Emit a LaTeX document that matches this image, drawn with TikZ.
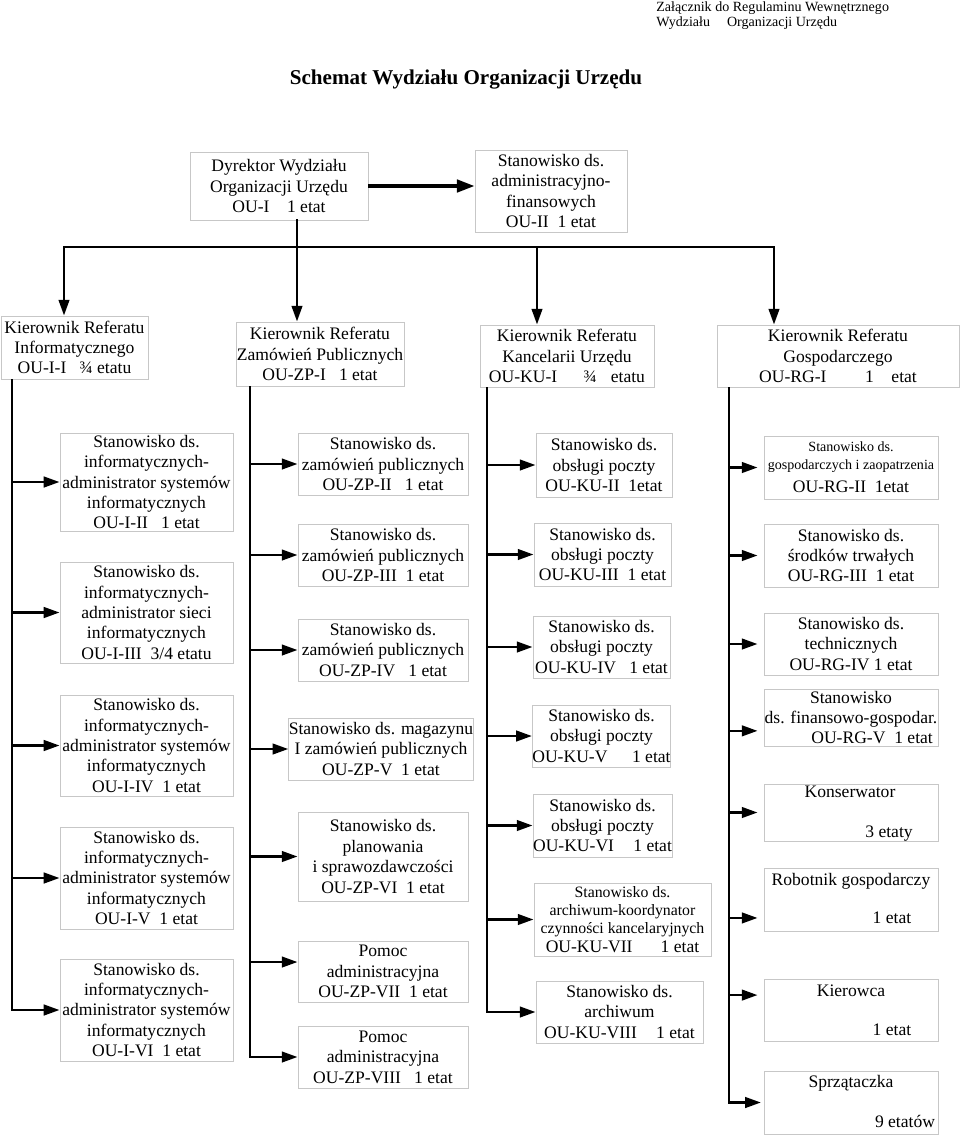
\documentclass[tikz,border=0pt]{standalone}
\usepackage{fontspec}
\setmainfont{Liberation Serif}
\usetikzlibrary{arrows.meta}

\begin{document}
\begin{tikzpicture}[x=0.02cm, y=-0.02cm,
        box/.style 2 args={draw=black!22, line width=0.5pt, align=center, inner sep=0pt,
            minimum width=#1*0.02cm, minimum height=#2*0.02cm,
            font=\fontsize{10}{11.6}\selectfont},
        txt/.style={inner sep=0pt, text height=7pt, text depth=2pt,
            font=\fontsize{10}{11.6}\selectfont},
        conn/.style={line width=1.5pt, line cap=rect},
        arr/.style={line width=1.5pt, -{Triangle[length=9pt,width=6pt]}}
    ]
    \useasboundingbox (0,0) rectangle (960,1137);

    % Headings
    \node[anchor=north west, align=left, inner sep=0pt, font=\fontsize{8}{9}\selectfont] (annex) at (656,1)
        {Załącznik do Regulaminu Wewnętrznego\\Wydziału\hspace{1.2em}Organizacji Urzędu};
    \node[font=\bfseries\fontsize{12}{14}\selectfont] (title) at (466,80) {Schemat Wydziału Organizacji Urzędu};

    % Top
    \node[box={178}{68}] (dyr) at (279,186) {Dyrektor Wydziału\\Organizacji Urzędu\\OU-I\quad 1 etat};
    \node[box={152}{82}] (adm) at (551,191) {Stanowisko ds.\\administracyjno-\\finansowych\\OU-II~~1 etat};

    % Referaty
    \node[box={147}{63}] (inf) at (74.5,347.5) {Kierownik Referatu\\Informatycznego\\OU-I-I~~~¾ etatu};
    \node[box={168}{64}] (zp) at (320,354) {Kierownik Referatu\\Zamówień Publicznych\\OU-ZP-I~~~1 etat};
    \node[box={174}{62}] (ku) at (567,356) {Kierownik Referatu\\Kancelarii Urzędu\\OU-KU-I\hspace{1.5em}¾\hspace{0.8em}etatu};
    \node[box={242}{62}] (rg) at (838,356) {Kierownik Referatu\\Gospodarczego\\OU-RG-I\hspace{2.2em}1\hspace{1em}etat};

    % Referat Informatyczny
    \node[box={173}{98}] (inf2) at (146.5,482) {Stanowisko ds.\\informatycznych-\\administrator systemów\\informatycznych\\OU-I-II~~~1 etat};
    \node[box={173}{101}] (inf3) at (146.5,612.5) {Stanowisko ds.\\informatycznych-\\administrator sieci\\informatycznych\\OU-I-III~~3/4 etatu};
    \node[box={173}{101}] (inf4) at (146.5,745.5) {Stanowisko ds.\\informatycznych-\\administrator systemów\\informatycznych\\OU-I-IV~~1 etat};
    \node[box={173}{102}] (inf5) at (146.5,878) {Stanowisko ds.\\informatycznych-\\administrator systemów\\informatycznych\\OU-I-V~~1 etat};
    \node[box={173}{102}] (inf6) at (146.5,1010) {Stanowisko ds.\\informatycznych-\\administrator systemów\\informatycznych\\OU-I-VI~~1 etat};

    % Referat Zamowien Publicznych
    \node[box={170}{62}] (zp2) at (383,464) {Stanowisko ds.\\zamówień publicznych\\OU-ZP-II~~~1 etat};
    \node[box={170}{62}] (zp3) at (383,555) {Stanowisko ds.\\zamówień publicznych\\OU-ZP-III~~1 etat};
    \node[box={170}{62}] (zp4) at (383,650) {Stanowisko ds.\\zamówień publicznych\\OU-ZP-IV~~~1 etat};
    \node[box={182}{62}] (zp5) at (381,749) {Stanowisko ds. magazynu\\I zamówień publicznych\\OU-ZP-V~~1 etat};
    \node[box={170}{89}] (zp6) at (383,856.5) {Stanowisko ds.\\planowania\\i sprawozdawczości\\OU-ZP-VI~~1 etat};
    \node[box={170}{61}] (zp7) at (383,971.5) {Pomoc\\administracyjna\\OU-ZP-VII~~1 etat};
    \node[box={170}{62}] (zp8) at (383,1057) {Pomoc\\administracyjna\\OU-ZP-VIII~~~1 etat};

    % Referat Kancelarii
    \node[box={136}{64}] (ku2) at (604,465) {Stanowisko ds.\\obsługi poczty\\OU-KU-II~~1etat};
    \node[box={137}{63}] (ku3) at (602.5,554.5) {Stanowisko ds.\\obsługi poczty\\OU-KU-III~~1 etat};
    \node[box={137}{62}] (ku4) at (601.5,647) {Stanowisko ds.\\obsługi poczty\\OU-KU-IV~~~1 etat};
    \node[box={137}{62}] (ku5) at (601.5,736) {Stanowisko ds.\\obsługi poczty\\OU-KU-V\hspace{1.4em}1 etat};
    \node[box={139}{63}] (ku6) at (602.5,825.5) {Stanowisko ds.\\obsługi poczty\\OU-KU-VI\hspace{1.1em}1 etat};
    \node[box={177}{73}] (ku7) at (622.5,919.5) {\fontsize{9}{10}\selectfont Stanowisko ds.\\[-1.4pt]\fontsize{9}{10}\selectfont archiwum-koordynator\\[-1.4pt]\fontsize{9}{10}\selectfont czynności kancelaryjnych\\[-0.8pt]OU-KU-VII\hspace{1.6em}1 etat};
    \node[box={167}{62}] (ku8) at (619.5,1012) {Stanowisko ds.\\archiwum\\OU-KU-VIII\hspace{1.1em}1 etat};

    % Referat Gospodarczy
    \node[box={174}{63}] (rg2) at (851,467.5) {\fontsize{8}{9.5}\selectfont Stanowisko ds.\\[-1.4pt]\fontsize{8}{9.5}\selectfont gospodarczych i zaopatrzenia\\[1.4pt]OU-RG-II~~1etat};
    \node[box={174}{63}] (rg3) at (851,555.5) {Stanowisko ds.\\środków trwałych\\OU-RG-III~~1 etat};
    \node[box={174}{62}] (rg4) at (851,644) {Stanowisko ds.\\technicznych\\OU-RG-IV 1 etat};
    \node[box={174}{57}] (rg5) at (851,717.5) {Stanowisko\\ds. finansowo-gospodar.\\\hspace*{2.4em}OU-RG-V~~1 etat};
    \node[box={174}{57}] (rg6) at (851,812.5) {};
    \node[box={174}{63}] (rg7) at (851,899.5) {};
    \node[box={174}{62}] (rg8) at (851,1010) {};
    \node[box={174}{63}] (rg9) at (851,1102.5) {};
    \node[txt] (kons) at (850,793) {Konserwator};
    \node[txt] (konsn) at (889,833) {3 etaty};
    \node[txt] (rob) at (851,881) {Robotnik gospodarczy};
    \node[txt] (robn) at (892,919) {1 etat};
    \node[txt] (kier) at (851,992) {Kierowca};
    \node[txt] (kiern) at (892,1031) {1 etat};
    \node[txt] (sprz) at (851,1083) {Sprzątaczka};
    \node[txt] (sprzn) at (905,1123) {9 etatów};

    % Edges
    \coordinate (b1) at (64,247);
    \coordinate (b2) at (297,247);
    \coordinate (b3) at (537,247);
    \coordinate (b4) at (774,247);
    \draw[arr, line width=2pt, -{Triangle[length=10pt,width=7pt]}] (dyr.east) -- (dyr.east -| adm.west);
    \draw[conn] (b2 |- dyr.south) -- (b2);
    \draw[conn] (b1) -- (b4);
    \draw[arr] (b1) -- (b1 |- inf.north);
    \draw[arr] (b2) -- (b2 |- zp.north);
    \draw[arr] (b3) -- (b3 |- ku.north);
    \draw[arr] (b4) -- (b4 |- rg.north);

    \coordinate (s1) at (12,379);
    \draw[arr] (s1) |- (inf6.west);
    \foreach \b in {inf2,inf3,inf4,inf5}
        \draw[arr] (s1 |- \b.west) -- (\b.west);

    \coordinate (s2) at (250,386);
    \coordinate (zp7in) at ([yshift=5.4pt]zp7.west);
    \draw[arr] (s2) |- (zp8.west);
    \foreach \b in {zp2,zp3,zp4,zp5,zp6}
        \draw[arr] (s2 |- \b.west) -- (\b.west);
    \draw[arr] (s2 |- zp7in) -- (zp7in);

    \coordinate (s3) at (487,387);
    \draw[arr] (s3) |- (ku8.west);
    \foreach \b in {ku2,ku3,ku4,ku5,ku6,ku7}
        \draw[arr] (s3 |- \b.west) -- (\b.west);

    \coordinate (s4) at (729,387);
    \coordinate (rg5in) at ([yshift=-7.6pt]rg5.west);
    \coordinate (rg7in) at ([yshift=-10.5pt]rg7.west);
    \coordinate (rg8in) at ([yshift=8.5pt]rg8.west);
    \draw[arr, shorten >=1.5pt] (s4) |- (rg9.west);
    \foreach \b in {rg2.west,rg3.west,rg4.west,rg5in,rg6.west,rg7in,rg8in}
        \draw[arr, shorten >=3.4pt] (s4 |- \b) -- (\b);

\end{tikzpicture}
\end{document}
